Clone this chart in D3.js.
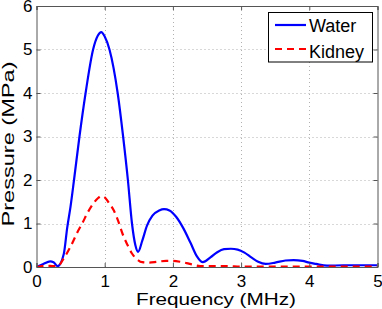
<!DOCTYPE html>
<html>
<head>
<meta charset="utf-8">
<script src="https://cdn.jsdelivr.net/npm/d3@7"></script>
<style>
body{margin:0;background:#fff;}
text{font-family:"Liberation Sans",Arial,sans-serif;}
</style>
</head>
<body>
<div id="chart"></div>
<script>
// readings (MHz, MPa)
var waterF=[0,0.1,0.2,0.25,0.31,0.4,0.45,0.5,0.55,0.63,0.72,0.83,0.9,0.95,1.0,1.07,1.19,1.27,1.34,1.4,1.45,1.49,1.55,1.62,1.7,1.8,1.87,1.95,2.05,2.15,2.26,2.35,2.44,2.55,2.65,2.75,2.85,2.95,3.05,3.15,3.25,3.36,3.5,3.65,3.77,3.9,4.0,4.1,4.26,4.5,5.0];
var waterP=[0,0.07,0.13,0.11,0.02,0.3,0.9,1.4,2.0,3.0,4.0,5.0,5.32,5.4,5.3,5.0,4.0,3.0,2.0,1.0,0.5,0.35,0.6,0.95,1.18,1.3,1.33,1.3,1.15,0.9,0.55,0.25,0.11,0.22,0.34,0.41,0.42,0.4,0.33,0.22,0.12,0.07,0.1,0.15,0.16,0.14,0.1,0.07,0.03,0.04,0.04];
var kidneyF=[0,0.15,0.25,0.31,0.4,0.5,0.6,0.67,0.75,0.82,0.9,0.95,1.0,1.05,1.13,1.2,1.26,1.33,1.4,1.48,1.55,1.65,1.77,1.9,2.0,2.11,2.2,2.3,2.4,2.6,2.8,3.0,3.5,4.0,5.0];
var kidneyP=[0,0.03,0.02,0.02,0.2,0.47,0.8,1.0,1.25,1.43,1.58,1.63,1.6,1.5,1.31,1.05,0.77,0.52,0.31,0.17,0.11,0.1,0.12,0.14,0.14,0.12,0.09,0.05,0.02,0.02,0.02,0.01,0.01,0.01,0.01];
var xTicks=[0,1,2,3,4,5];
var yTicks=[0,1,2,3,4,5,6];
var seriesNames=["Water","Kidney"];

var W=382,H=309;
var m={l:36.5,r:4.5,t:6,b:42};
var svg=d3.select("#chart").append("svg").attr("width",W).attr("height",H);
var x=d3.scaleLinear().domain([0,5]).range([m.l,W-m.r]);
var y=d3.scaleLinear().domain([0,6]).range([H-m.b,m.t]);

// grid
svg.append("g").selectAll("line").data(xTicks.slice(1,-1)).enter().append("line")
	.attr("x1",function(d){return Math.round(x(d))+0.5;}).attr("x2",function(d){return Math.round(x(d))+0.5;})
	.attr("y1",y(0)).attr("y2",y(6))
	.attr("stroke","#b0b0b0").attr("stroke-dasharray","1,3");
svg.append("g").selectAll("line").data(yTicks.slice(1,-1)).enter().append("line")
	.attr("y1",function(d){return Math.round(y(d))+0.5;}).attr("y2",function(d){return Math.round(y(d))+0.5;})
	.attr("x1",x(0)).attr("x2",x(5))
	.attr("stroke","#b0b0b0").attr("stroke-dasharray","1,3");

var line=d3.line().curve(d3.curveMonotoneX);
svg.append("clipPath").attr("id","c").append("rect")
	.attr("x",x(0)).attr("y",y(6)).attr("width",x(5)-x(0)).attr("height",y(0)-y(6));
svg.append("path").attr("clip-path","url(#c)")
	.attr("d",line(waterF.map(function(f,i){return [x(f),y(waterP[i])];})))
	.attr("fill","none").attr("stroke","#0000ff").attr("stroke-width",2.2);
svg.append("path").attr("clip-path","url(#c)")
	.attr("d",line(kidneyF.map(function(f,i){return [x(f),y(kidneyP[i])];})))
	.attr("fill","none").attr("stroke","#ff0000").attr("stroke-width",2.2).attr("stroke-dasharray","7,5");

// axes (box)
svg.append("g").attr("transform","translate(0,"+y(0)+")")
	.call(d3.axisBottom(x).tickValues(xTicks).tickSize(-4).tickPadding(8).tickFormat(d3.format("d")));
svg.append("g").attr("transform","translate("+x(0)+",0)")
	.call(d3.axisLeft(y).tickValues(yTicks).tickSize(-4).tickPadding(4).tickFormat(d3.format("d")));
svg.append("g").attr("transform","translate(0,"+y(6)+")")
	.call(d3.axisTop(x).tickValues(xTicks).tickSize(-4).tickFormat(""));
svg.append("g").attr("transform","translate("+x(5)+",0)")
	.call(d3.axisRight(y).tickValues(yTicks).tickSize(-4).tickFormat(""));
svg.selectAll(".domain,.tick line").attr("stroke","#555");
svg.selectAll(".tick text").attr("font-size",17).attr("fill","#000").style("font-family","Liberation Sans, Arial, sans-serif");

svg.append("text").attr("x",216).attr("y",305).attr("text-anchor","middle")
	.attr("font-size",17).attr("textLength",160).attr("lengthAdjust","spacingAndGlyphs").text("Frequency (MHz)");
svg.append("text").attr("transform","translate(13.5,144) rotate(-90)").attr("text-anchor","middle")
	.attr("font-size",17).attr("textLength",165).attr("lengthAdjust","spacingAndGlyphs").text("Pressure (MPa)");

// legend
var lg=svg.append("g");
lg.append("rect").attr("x",268.5).attr("y",12.5).attr("width",104).attr("height",49.5)
	.attr("fill","#fff").attr("stroke","#000").attr("stroke-width",1);
seriesNames.forEach(function(n,i){
	var yy=25+i*24;
	lg.append("line").attr("x1",275).attr("x2",306).attr("y1",yy).attr("y2",yy)
		.attr("stroke",i?"#ff0000":"#0000ff").attr("stroke-width",2.2)
		.attr("stroke-dasharray",i?"7,5":null);
	lg.append("text").attr("x",309).attr("y",yy+6.5+i*2).attr("font-size",18).text(n);
});
</script>
</body>
</html>
